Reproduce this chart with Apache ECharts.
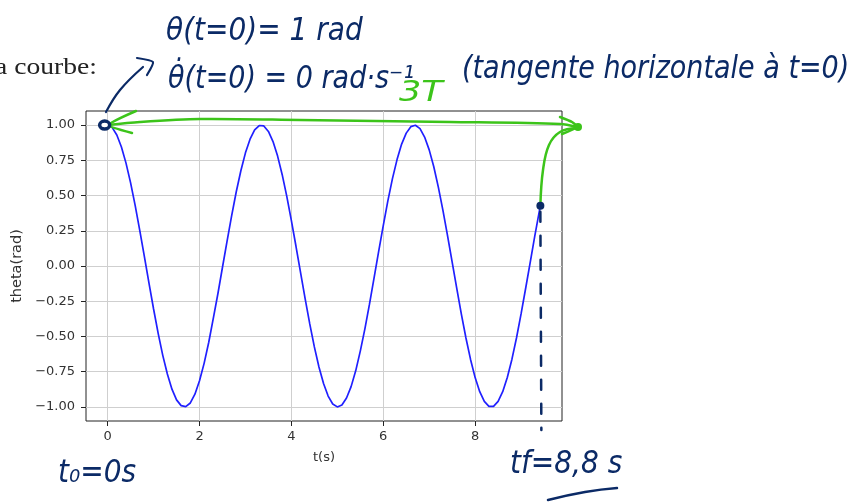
<!DOCTYPE html>
<html>
<head>
<meta charset="utf-8">
<script src="https://cdn.jsdelivr.net/npm/echarts@6/dist/echarts.min.js"></script>
<style>html,body{margin:0;padding:0;background:#fff}#c{width:855px;height:504px}</style>
</head>
<body>
<div id="c"></div>
<script>
// Time samples (s) and theta (rad)
const timeValues = [0,0.1,0.2,0.3,0.4,0.5,0.6,0.7,0.8,0.9,1.0,1.1,1.2,1.3,1.4,1.5,1.6,1.7,1.8,1.9,2.0,2.1,2.2,2.3,2.4,2.5,2.6,2.7,2.8,2.9,3.0,3.1,3.2,3.3,3.4,3.5,3.6,3.7,3.8,3.9,4.0,4.1,4.2,4.3,4.4,4.5,4.6,4.7,4.8,4.9,5.0,5.1,5.2,5.3,5.4,5.5,5.6,5.7,5.8,5.9,6.0,6.1,6.2,6.3,6.4,6.5,6.6,6.7,6.8,6.9,7.0,7.1,7.2,7.3,7.4,7.5,7.6,7.7,7.8,7.9,8.0,8.1,8.2,8.3,8.4,8.5,8.6,8.7,8.8,8.9,9.0,9.1,9.2,9.3,9.4,9.42];
const thetaValues = [1.000,0.982,0.930,0.845,0.730,0.590,0.428,0.251,0.066,-0.122,-0.305,-0.478,-0.634,-0.767,-0.874,-0.950,-0.991,-0.998,-0.972,-0.910,-0.815,-0.691,-0.543,-0.372,-0.197,-0.009,0.177,0.358,0.527,0.676,0.803,0.900,0.966,0.997,0.994,0.955,0.883,0.780,0.648,0.494,0.322,0.140,-0.047,-0.233,-0.411,-0.574,-0.717,-0.834,-0.923,-0.979,-1.000,-0.986,-0.937,-0.856,-0.744,-0.604,-0.446,-0.271,-0.085,0.104,0.287,0.462,0.620,0.755,0.865,0.943,0.989,0.999,0.975,0.915,0.824,0.704,0.558,0.393,0.214,0.028,-0.159,-0.341,-0.511,-0.663,-0.792,-0.892,-0.961,-0.996,-0.996,-0.961,-0.892,-0.791,-0.663,-0.511,-0.340,-0.158,0.028,0.215,0.393,0.428];
const xTicks = [0,2,4,6,8];
const yTicks = [-1.00,-0.75,-0.50,-0.25,0.00,0.25,0.50,0.75,1.00];

const chart = echarts.init(document.getElementById('c'), null, {renderer:'canvas'});
const seriesData = timeValues.map((t,i)=>[t, thetaValues[i]]);
const tEnd = timeValues[timeValues.length-1];
const span = tEnd - timeValues[0];
const fmt = v => (Math.abs(v)<1e-9 ? '0.00' : v.toFixed(2)).replace('-', '\u2212');
const tickFont = {fontFamily:'DejaVu Sans', fontSize:13, color:'#333'};

chart.setOption({
  animation:false,
  grid:{left:86, right:293, top:111, bottom:83, show:true, borderColor:'#222', borderWidth:1, backgroundColor:'transparent'},
  xAxis:{type:'value', min:-0.05*span, max:tEnd+0.05*span,
    name:'t(s)', nameLocation:'middle', nameGap:30,
    nameTextStyle:{fontFamily:'DejaVu Sans', fontSize:13, color:'#333'},
    axisLine:{show:false, onZero:false},
    axisTick:{show:true, customValues:xTicks, length:5, lineStyle:{color:'#222'}},
    axisLabel:Object.assign({customValues:xTicks, margin:9, formatter:v=>String(v)}, tickFont),
    splitLine:{show:true, lineStyle:{color:'#cfcfcf', width:1}}
  },
  yAxis:{type:'value', min:-1.1, max:1.1,
    name:'theta(rad)', nameLocation:'middle', nameGap:58, nameRotate:90,
    nameTextStyle:{fontFamily:'DejaVu Sans', fontSize:14.5, color:'#333'},
    axisLine:{show:false, onZero:false},
    axisTick:{show:true, customValues:yTicks, length:5, lineStyle:{color:'#222'}},
    axisLabel:Object.assign({customValues:yTicks, margin:11, formatter:fmt}, tickFont),
    splitLine:{show:true, lineStyle:{color:'#cfcfcf', width:1}}
  },
  series:[{type:'line', data:seriesData, smooth:false, showSymbol:false, symbol:'none',
    lineStyle:{color:'#2020ff', width:1.7}, z:3}]
});

// Hand-drawn annotations
const navy = '#0b2a66', green = '#3cc41a';
const p0 = chart.convertToPixel({gridIndex:0}, [timeValues[0], thetaValues[0]]);
const p1 = chart.convertToPixel({gridIndex:0}, [tEnd, thetaValues[thetaValues.length-1]]);
const g = [];
function txt(x,y,text,size,color,extra){g.push({type:'text', x:x, y:y, z:10, scaleY:1.15, style:Object.assign({text:text, fill:color, font:'italic '+size+'px "DejaVu Sans"', textVerticalAlign:'middle'}, extra||{})});}
function poly(points,color,w,smooth,dash){g.push({type:'polyline', z:10, shape:{points:points, smooth:smooth||0}, style:{stroke:color, lineWidth:w, fill:null, lineCap:'round', lineJoin:'round', lineDash:dash||null}});}

g.push({type:'text', x:97, y:79, z:10, scaleX:1.2, style:{text:'la courbe:', fill:'#222', font:'23px "Liberation Serif"', textAlign:'right', textVerticalAlign:'bottom'}});
txt(166,32,'θ(t=0)= 1 rad',28,navy);
txt(168,80,'θ\u0307(t=0) = 0 rad·s\u207B\u00B9',27,navy);
txt(462,70,'(tangente horizontale à t=0)',27,navy);
g.push({type:'text', x:399, y:94, z:10, scaleX:1.35, scaleY:1.1, style:{text:'3T', fill:green, font:'italic 26px "DejaVu Sans"', textVerticalAlign:'middle'}});
txt(58,474,'t\u2080=0s',28,navy);
txt(510,465,'tf=8,8 s',28,navy);
poly([[548,500],[585,492],[617,488]],navy,2.5,0.5);

// green horizontal tangent arrow
poly([[p0[0],p0[1]],[140,122],[200,119],[300,120],[450,122],[560,124],[577,127]],green,2.5,0.3);
poly([[136,111],[p0[0]+1,p0[1]],[132,133]],green,2.5,0.2);
poly([[560,117],[572,122],[577,127],[562,134]],green,2.5,0.2);
g.push({type:'circle', z:10, shape:{cx:578, cy:127, r:4}, style:{fill:green}});
poly([[577,128],[560,132],[549,145],[543,170],[p1[0],p1[1]]],green,2.5,0.4);

// navy arrow to initial point
poly([[106,112],[120,90],[143,67]],navy,2.2,0.4);
poly([[137,58],[153,62],[147,75]],navy,2.2,0.2);
g.push({type:'ellipse', z:11, shape:{cx:p0[0]-3, cy:p0[1], rx:5, ry:4}, style:{stroke:navy, lineWidth:3.5, fill:'#ffffff'}});
g.push({type:'circle', z:11, shape:{cx:p1[0], cy:p1[1], r:4}, style:{fill:navy}});
poly([[p1[0],p1[1]+6],[p1[0]+1,430]],navy,2.5,0,[10,14]);

chart.setOption({graphic:g});
</script>
</body>
</html>
